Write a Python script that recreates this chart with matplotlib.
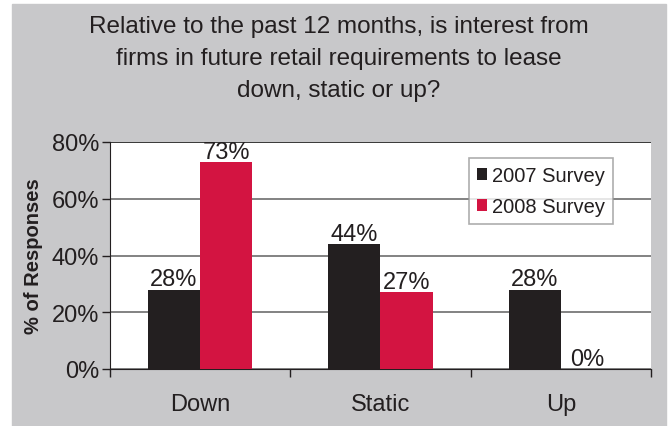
import numpy as np
import matplotlib.pyplot as plt
from matplotlib.ticker import FuncFormatter

# survey results, % of responses
categorias = ['Down', 'Static', 'Up']
survey_2007 = [28, 44, 28]
survey_2008 = [73, 27, 0]
series = ['2007 Survey', '2008 Survey']
cores = ['#231f20', '#d31441']

plt.rcParams['font.family'] = ['Liberation Sans', 'DejaVu Sans']

fig = plt.figure(figsize=(6.71, 4.27), dpi=100)
fig.patch.set_facecolor('white')
# fundo cinza do painel
fig.patches.append(plt.Rectangle((12 / 671, 0), 654 / 671, 422 / 427,
                                 transform=fig.transFigure, color='#c8c8ca', zorder=-1))

ax = fig.add_axes([110 / 671, 1 - 370 / 427, 541 / 671, 227 / 427])
ax.set_facecolor('white')

x = np.arange(len(categorias))
w = 0.29
b1 = ax.bar(x - w / 2, survey_2007, w, color=cores[0], label=series[0], zorder=3)
b2 = ax.bar(x + w / 2, survey_2008, w, color=cores[1], label=series[1], zorder=3)

for barras in (b1, b2):
    for r in barras:
        v = r.get_height()
        ax.text(r.get_x() + r.get_width() / 2, v - 0.3, f'{v:.0f}%',
                ha='center', va='bottom', fontsize=17, color='#231f20', zorder=4)

ax.set_xlim(-0.5, 2.5)
ax.set_ylim(0, 80)
ax.set_yticks([0, 20, 40, 60, 80])
ax.yaxis.set_major_formatter(FuncFormatter(lambda v, p: f'{v:.0f}%'))
ax.set_xticks(x)
ax.set_xticklabels(categorias)
ax.set_xticks([-0.5, 0.5, 1.5, 2.5], minor=True)
ax.tick_params(axis='x', which='major', length=0, pad=17, labelsize=17, colors='#231f20')
ax.tick_params(axis='x', which='minor', length=6, width=1, color='#231f20')
ax.tick_params(axis='y', length=6, width=1, labelsize=17, colors='#231f20', pad=2)

ax.grid(axis='y', color='#6d6d6d', linewidth=1.2, zorder=1)
for lado in ['top', 'right']:
    ax.spines[lado].set_visible(False)
ax.spines['left'].set_color('#231f20')
ax.spines['bottom'].set_color('#231f20')
ax.axhline(80, color='#3a3a3a', linewidth=1.4, zorder=2)

ax.set_ylabel('% of Responses', fontsize=14.5, fontweight='bold', color='#231f20', labelpad=6)

leg = ax.legend(loc='upper left', bbox_to_anchor=(0.664, 0.93), fontsize=14.5,
                frameon=True, fancybox=False, handlelength=0.5, handleheight=0.5,
                handletextpad=0.25, borderpad=0.4, labelspacing=0.6, borderaxespad=0)
leg.get_frame().set_edgecolor('#999999')
leg.get_frame().set_linewidth(1.2)
for t in leg.get_texts():
    t.set_color('#231f20')

fig.text(0.505, 1 - 59 / 427, 'Relative to the past 12 months, is interest from\n'
         'firms in future retail requirements to lease\n'
         'down, static or up?', ha='center', va='center', fontsize=17.5,
         color='#231f20', linespacing=1.6)

fig.savefig('out.png', dpi=100, facecolor=fig.get_facecolor())
